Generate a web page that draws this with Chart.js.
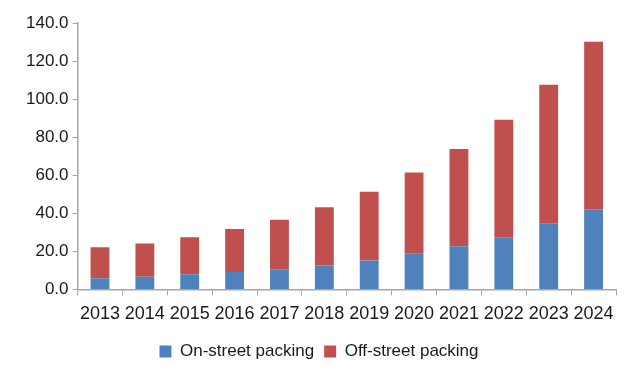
<!DOCTYPE html>
<html>
<head>
<meta charset="utf-8">
<script src="https://cdn.jsdelivr.net/npm/chart.js@4"></script>
<style>
  html, body { margin: 0; padding: 0; background: #fff; }
  #wrap { width: 640px; height: 387px; }
</style>
</head>
<body>
<div id="wrap"><canvas id="parkingChart"></canvas></div>
<script>
// ── DATA ────────────────────────────────────────────────────

const years = ['2013', '2014', '2015', '2016', '2017', '2018', '2019', '2020', '2021', '2022', '2023', '2024'];
const onStreet  = [5.9, 6.6, 8.0, 9.2, 10.6, 12.6, 15.2, 18.7, 22.7, 27.4, 34.5, 42.1];
const offStreet = [16.3, 17.5, 19.4, 22.5, 26.0, 30.6, 36.1, 42.7, 51.1, 61.7, 73.0, 88.1];
const yTicks = [0, 20, 40, 60, 80, 100, 120, 140];


// ── CHART ───────────────────────────────────────────────────

Chart.defaults.font.family = '"Liberation Sans", Arial, sans-serif';
Chart.defaults.color = '#1a1a1a';

const axisGray = '#a6a6a6';

new Chart(document.getElementById('parkingChart').getContext('2d'), {
  type: 'bar',
  data: {
    labels: years,
    datasets: [
      {
        label: 'On-street packing',
        data: onStreet,
        backgroundColor: '#4f81bd',
        barPercentage: 0.42,
        categoryPercentage: 1,
      },
      {
        label: 'Off-street packing',
        data: offStreet,
        backgroundColor: '#c0504d',
        barPercentage: 0.42,
        categoryPercentage: 1,
      }
    ]
  },
  options: {
    responsive: true,
    maintainAspectRatio: false,
    animation: false,
    layout: { padding: { left: 22, right: 24, top: 23, bottom: 17 } },
    plugins: {
      tooltip: { enabled: false },
      legend: {
        position: 'bottom',
        labels: {
          boxWidth: 12,
          boxHeight: 12,
          padding: 10,
          font: { size: 17 },
          color: '#1a1a1a'
        }
      }
    },
    scales: {
      x: {
        stacked: true,
        grid: { drawOnChartArea: false, tickLength: 6, color: axisGray },
        border: { color: axisGray, width: 1.5 },
        ticks: { font: { size: 18 }, padding: 8, maxRotation: 0, autoSkip: false }
      },
      y: {
        stacked: true,
        min: 0,
        max: 140,
        afterBuildTicks: axis => { axis.ticks = yTicks.map(v => ({ value: v })); },
        grid: { drawOnChartArea: false, tickLength: 5, color: axisGray },
        border: { color: axisGray, width: 1.5 },
        ticks: {
          font: { size: 17 },
          padding: 4,
          callback: v => v.toFixed(1)
        }
      }
    }
  }
});
</script>
</body>
</html>
